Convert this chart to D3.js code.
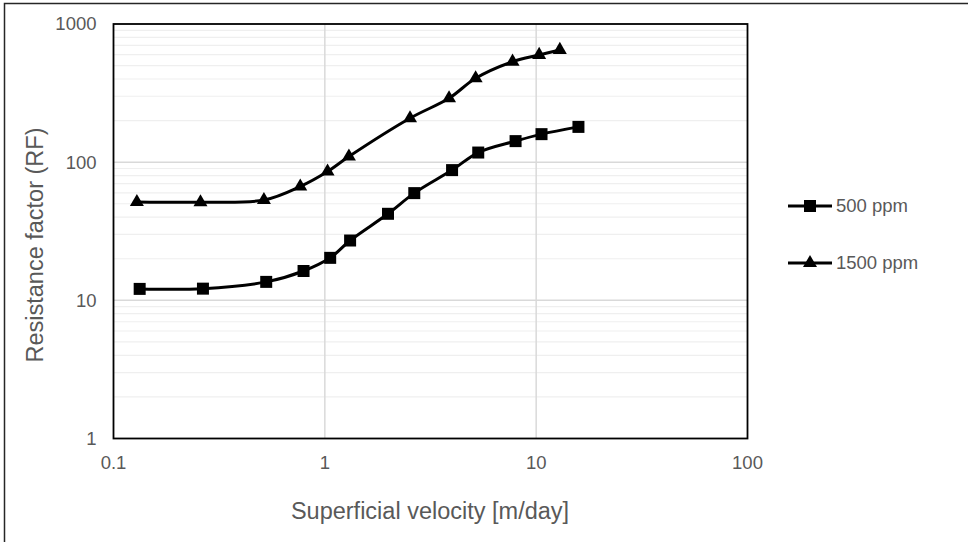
<!DOCTYPE html>
<html>
<head>
<meta charset="utf-8">
<script src="https://cdn.jsdelivr.net/npm/d3@7"></script>
<style>
  html, body { margin: 0; padding: 0; background: #ffffff; }
  svg { display: block; }
  text { font-family: "Liberation Sans", Arial, sans-serif; fill: #595959; }
</style>
</head>
<body>
<svg id="chart" width="968" height="542"></svg>
<script>
// ---- data ----
const velocity500 = [0.133, 0.265, 0.528, 0.793, 1.06, 1.317, 1.99, 2.65, 4.0, 5.32, 7.99, 10.6, 15.85];
const rf500       = [12.1, 12.15, 13.6, 16.3, 20.3, 27.1, 42.3, 59.7, 87.6, 117.4, 142, 159.5, 180];
const velocity1500 = [0.129, 0.258, 0.515, 0.765, 1.03, 1.30, 2.53, 3.87, 5.17, 7.73, 10.33, 12.94];
const rf1500       = [51.5, 51.3, 53.2, 66.7, 85.6, 109.9, 208, 290, 405, 534, 597, 649];
const seriesNames = ["500 ppm", "1500 ppm"];
const xTicks = [0.1, 1, 10, 100];
const xTickLabels = ["0.1", "1", "10", "100"];
const yTicks = [1, 10, 100, 1000];
const yTickLabels = ["1", "10", "100", "1000"];
const xTitle = "Superficial velocity [m/day]";
const yTitle = "Resistance factor (RF)";

// ---- layout ----
const svg = d3.select("#chart");
const L = 113.5, R = 747.5, T = 24, B = 438.5;
const x = d3.scaleLog().domain([0.1, 100]).range([L, R]);
const y = d3.scaleLog().domain([1, 1000]).range([B, T]);

// outer border (only left/top visible)
svg.append("rect").attr("x", 4.5).attr("y", 3.5).attr("width", 1000).attr("height", 600)
  .attr("fill", "none").attr("stroke", "#262626").attr("stroke-width", 1.5);

// minor horizontal gridlines
const minorY = [];
for (let d = 1; d < 1000; d *= 10) for (let k = 2; k <= 9; k++) minorY.push(d * k);
svg.append("g").selectAll("line").data(minorY).join("line")
  .attr("x1", L).attr("x2", R)
  .attr("y1", d => y(d)).attr("y2", d => y(d))
  .attr("stroke", "#efefef").attr("stroke-width", 1.2);

// major gridlines
svg.append("g").selectAll("line").data(yTicks.slice(1, -1)).join("line")
  .attr("x1", L).attr("x2", R)
  .attr("y1", d => y(d)).attr("y2", d => y(d))
  .attr("stroke", "#d9d9d9").attr("stroke-width", 1.5);
svg.append("g").selectAll("line").data(xTicks.slice(1, -1)).join("line")
  .attr("y1", T).attr("y2", B)
  .attr("x1", d => x(d)).attr("x2", d => x(d))
  .attr("stroke", "#d9d9d9").attr("stroke-width", 1.5);

// plot border
svg.append("rect").attr("x", L).attr("y", T).attr("width", R - L).attr("height", B - T)
  .attr("fill", "none").attr("stroke", "#000").attr("stroke-width", 1.8);

// tick labels
svg.append("g").selectAll("text").data(yTicks).join("text")
  .attr("x", L - 17).attr("y", d => y(d)).attr("dy", "0.35em")
  .attr("text-anchor", "end").attr("font-size", 18.5)
  .text((d, i) => yTickLabels[i]);
svg.append("g").selectAll("text").data(xTicks).join("text")
  .attr("x", d => x(d)).attr("y", 463).attr("dy", "0.35em")
  .attr("text-anchor", "middle").attr("font-size", 18.5)
  .text((d, i) => xTickLabels[i]);

// axis titles
svg.append("text").attr("x", (L + R) / 2 - 0.5).attr("y", 511).attr("dy", "0.35em")
  .attr("text-anchor", "middle").attr("font-size", 23.5).text(xTitle);
svg.append("text").attr("transform", "translate(35,245) rotate(-90)").attr("dy", "0.35em")
  .attr("text-anchor", "middle").attr("font-size", 23.5).text(yTitle);

// series
const line = d3.line().x(d => x(d[0])).y(d => y(d[1])).curve(d3.curveCatmullRom.alpha(0.5));
const s500 = velocity500.map((v, i) => [v, rf500[i]]);
const s1500 = velocity1500.map((v, i) => [v, rf1500[i]]);
const sq = d3.symbol().type(d3.symbolSquare).size(144);
const tri = d3.symbol().type(d3.symbolTriangle).size(85);

[[s500, sq], [s1500, tri]].forEach(([data, sym]) => {
  svg.append("path").datum(data).attr("d", line)
    .attr("fill", "none").attr("stroke", "#000").attr("stroke-width", 3);
  svg.append("g").selectAll("path").data(data).join("path")
    .attr("transform", d => `translate(${x(d[0])},${y(d[1])})`)
    .attr("d", sym()).attr("fill", "#000");
});

// legend
const legY = [206, 263];
const syms = [sq, tri];
seriesNames.forEach((name, i) => {
  const g = svg.append("g");
  g.append("line").attr("x1", 788).attr("x2", 832).attr("y1", legY[i]).attr("y2", legY[i])
    .attr("stroke", "#000").attr("stroke-width", 3);
  g.append("path").attr("transform", `translate(810,${legY[i]})`).attr("d", syms[i]()).attr("fill", "#000");
  g.append("text").attr("x", 836).attr("y", legY[i]).attr("dy", "0.35em")
    .attr("font-size", 18.5).text(name);
});
</script>
</body>
</html>
